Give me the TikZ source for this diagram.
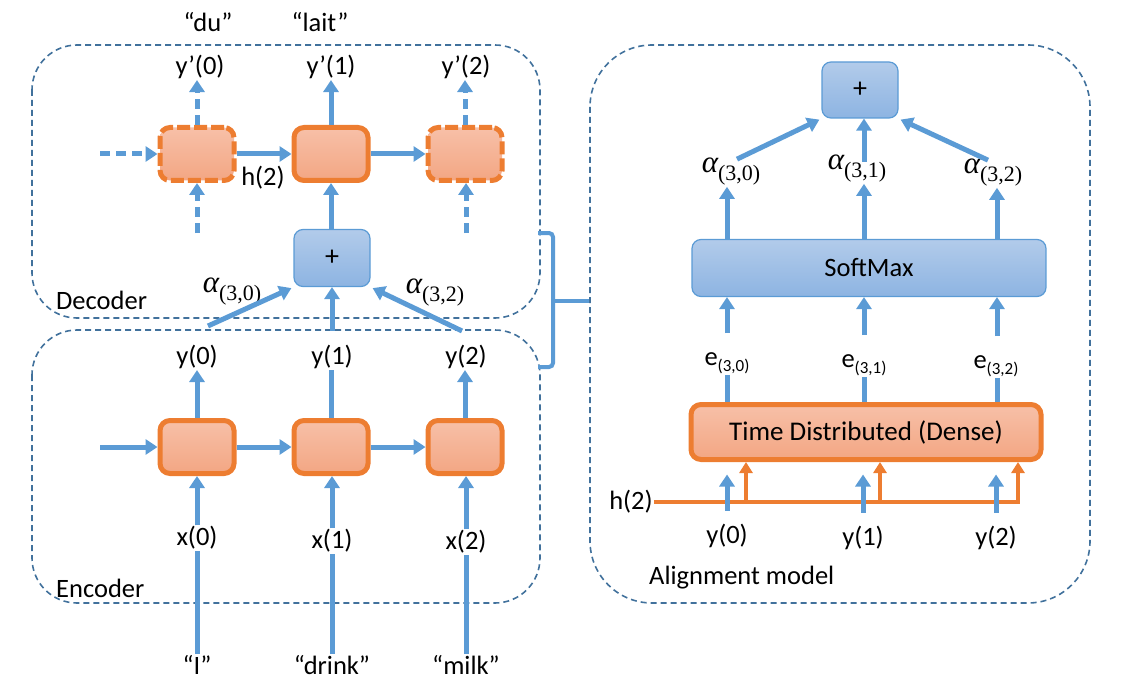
\documentclass[tikz,border=0pt]{standalone}
\usepackage{fontspec}
\setmainfont{Carlito}
\newfontfamily\serfam{Liberation Serif}
\usetikzlibrary{arrows.meta,calc}
\definecolor{ablue}{HTML}{5B9BD5}
\definecolor{dblue}{HTML}{41719C}
\definecolor{aorange}{HTML}{ED7D31}
\definecolor{celltop}{RGB}{247,192,168}
\definecolor{cellbot}{RGB}{243,166,131}
\definecolor{btop}{RGB}{178,203,234}
\definecolor{bbot}{RGB}{141,180,226}
\tikzset{
  cellbox/.style={rectangle, rounded corners=10pt, draw=aorange, line width=5pt, top color=celltop, bottom color=cellbot, minimum width=74pt, minimum height=53pt, inner sep=0pt},
  dcellbox/.style={cellbox, dash pattern=on 13pt off 4pt},
  bluebox/.style={rectangle, rounded corners=9pt, draw=ablue, line width=1.2pt, top color=btop, bottom color=bbot, inner sep=0pt},
  arr/.style={draw=ablue, line width=5pt, -{Triangle[width=15pt,length=12pt]}},
  darr/.style={arr, dash pattern=on 10pt off 6pt},
  ln/.style={draw=ablue, line width=5pt},
  orarr/.style={draw=aorange, line width=4pt, -{Triangle[width=13pt,length=11pt]}},
  container/.style={draw=dblue, line width=1.6pt, dash pattern=on 6pt off 4pt, rounded corners=45pt},
  lab/.style={inner sep=1pt, font=\fontsize{26.5}{30}\selectfont},
  plus/.style={font=\fontsize{28}{30}\selectfont},
}
\newcommand{\esub}[1]{e\raisebox{-6pt}{\fontsize{17}{20}\selectfont #1}}
\newcommand{\alp}[1]{{\serfam\fontsize{31}{32}\selectfont\itshape α}\raisebox{-8pt}{\serfam\fontsize{22}{22}\selectfont #1}}
\begin{document}
\begin{tikzpicture}[x=1pt,y=-1pt]
\useasboundingbox (0,0) rectangle (1136,682);
% containers
\draw[container] (32,45) rectangle (540,318);
\draw[container] (32,330) rectangle (540,603);
\draw[container, rounded corners=62pt] (590,45) rectangle (1090,603);
\node[lab, anchor=west] (declab) at (55,300) {Decoder};
\node[lab, anchor=west] (enclab) at (55,588) {Encoder};
\node[lab, anchor=west] (alab) at (648,578) {Alignment model};

% ---------------- Decoder ----------------
\node[dcellbox] (d0) at (197,154) {};
\node[cellbox] (d1) at (331,154) {};
\node[dcellbox] (d2) at (465,154) {};
\node[bluebox, plus, minimum width=76pt, minimum height=57pt] (dp) at (332,258) {+};
\node[lab] (du) at (208,22) {“du”};
\node[lab] (lait) at (320,22) {“lait”};
\node[lab] (yp0) at (200,67) {y’(0)};
\node[lab] (yp1) at (331,67) {y’(1)};
\node[lab] (yp2) at (466,67) {y’(2)};
\node[lab] (h2) at (263,178) {h(2)};
\node[lab] (ad0) at (232,292) {\alp{(3,0)}};
\node[lab] (ad2) at (435,293) {\alp{(3,2)}};
\coordinate (din) at (100,154);
\coordinate (d0in) at (197,233);
\coordinate (d2in) at (466,233);
\draw[darr] (din) -- (d0.west);
\draw[arr] (d0.east) -- (d1.west);
\draw[arr] (d1.east) -- (d2.west);
\draw[darr] (d0.north) -- (d0.north |- yp0.south);
\draw[arr] (d1.north) -- (d1.north |- yp1.south);
\draw[darr] (d2.north) -- (d2.north |- yp2.south);
\draw[darr] (d0in) -- (d0in |- d0.south);
\draw[darr] (d2in) -- (d2in |- d2.south);
\draw[arr] (dp.north -| d1) -- (d1.south);

% ---------------- Encoder ----------------
\node[cellbox] (e0) at (197,447) {};
\node[cellbox] (e1) at (331,447) {};
\node[cellbox] (e2) at (465,447) {};
\node[lab] (y0) at (197,357) {y(0)};
\node[lab] (y1) at (332,357) {y(1)};
\node[lab] (y2) at (466,357) {y(2)};
\node[lab] (x0) at (197,538) {x(0)};
\node[lab] (x1) at (332,541) {x(1)};
\node[lab] (x2) at (466,542) {x(2)};
\node[lab] (q0) at (197,665) {“I”};
\node[lab] (q1) at (332,665) {“drink”};
\node[lab] (q2) at (466,665) {“milk”};
\coordinate (ein) at (100,447);
\draw[arr] (ein) -- (e0.west);
\draw[arr] (e0.east) -- (e1.west);
\draw[arr] (e1.east) -- (e2.west);
\draw[arr] (e0.north) -- (e0.north |- y0.south);
\draw[ln] (e1.north) -- (e1.north |- y1.south);
\draw[arr] (e2.north) -- (e2.north |- y2.south);
\draw[arr] (x0.north) -- (x0.north |- e0.south);
\draw[arr] (x1.north) -- (x1.north |- e1.south);
\draw[arr] (x2.north) -- (x2.north |- e2.south);
\draw[ln] (q0.north) -- (q0.north |- x0.south);
\draw[ln] (q1.north) -- (q1.north |- x1.south);
\draw[ln] (q2.north) -- (q2.north |- x2.south);
% into decoder plus
\draw[arr] ([xshift=11pt,yshift=18pt]y0.north) -- ([xshift=-2pt,yshift=-1pt]dp.south west);
\draw[arr] ([yshift=13pt]y1.north) -- (dp.south);
\draw[arr] ([xshift=-4pt,yshift=13pt]y2.north) -- ([xshift=2pt,yshift=-1pt]dp.south east);

% brace
\coordinate (bt) at (538,233);
\coordinate (bb) at (538,367);
\coordinate (bm) at (589,301);
\draw[ln, line width=4pt, rounded corners=4pt] (bt) -- (553,233) -- (553,367) -- (bb);
\draw[ln, line width=4pt] (553,301) -- (bm);

% ---------------- Alignment model ----------------
\node[bluebox, plus, minimum width=76pt, minimum height=56pt] (ap) at (860,90) {+};
\node[bluebox, lab, minimum width=354pt, minimum height=57pt] (sm) at (869,268) {SoftMax};
\node[cellbox, lab, font=\fontsize{27}{30}\selectfont, minimum width=350pt, minimum height=55pt] (td) at (866,432) {Time Distributed (Dense)};
\node[lab] (aa0) at (731,172) {\alp{(3,0)}};
\node[lab] (aa1) at (857,169) {\alp{(3,1)}};
\node[lab] (aa2) at (993,173) {\alp{(3,2)}};
\node[lab] (ee0) at (727,363) {\esub{(3,0)}};
\node[lab] (ee1) at (864,365) {\esub{(3,1)}};
\node[lab] (ee2) at (996,366) {\esub{(3,2)}};
\node[lab] (ya0) at (727,536) {y(0)};
\node[lab] (ya1) at (863,538) {y(1)};
\node[lab] (ya2) at (996,538) {y(2)};
\node[lab] (ha) at (631,502) {h(2)};
\coordinate (c0) at (727,0);
\coordinate (c1) at (864,0);
\coordinate (c2) at (997,0);
\draw[arr] (sm.north -| c0) -- (c0 |- aa0.south);
\draw[arr] (sm.north -| c1) -- (c1 |- aa1.south);
\draw[arr] (sm.north -| c2) -- (c2 |- aa2.south);
\draw[arr] ([xshift=6pt,yshift=-2pt]aa0.north) -- ([xshift=-2pt,yshift=-1pt]ap.south west);
\draw[arr] ([yshift=-8pt]c1 |- aa1.north) -- (c1 |- ap.south);
\draw[arr] ([xshift=-5pt,yshift=-2pt]aa2.north) -- ([xshift=2pt,yshift=-1pt]ap.south east);
\draw[arr] ([yshift=18pt]c0 |- ee0.north) -- (c0 |- sm.south);
\draw[arr] ([yshift=18pt]c1 |- ee1.north) -- (c1 |- sm.south);
\draw[arr] ([yshift=18pt]c2 |- ee2.north) -- (c2 |- sm.south);
\draw[ln] (c0 |- ee0.south) -- (c0 |- td.north);
\draw[ln] (c1 |- ee1.south) -- (c1 |- td.north);
\draw[ln] (c2 |- ee2.south) -- (c2 |- td.north);
% orange h(2) feed
\coordinate (o0) at (746,502);
\coordinate (o1) at (880,502);
\coordinate (o2) at (1018,502);
\draw[orarr] (ha.east) -- (o2) -- (o2 |- td.south);
\draw[orarr] (o0) -- (o0 |- td.south);
\draw[orarr] (o1) -- (o1 |- td.south);
% blue y inputs
\draw[arr, shorten <=12pt] (ya0.north) -- ([yshift=-12.5pt]ya0 |- td.south);
\draw[arr, shorten <=12pt] (ya1.north) -- ([yshift=-12.5pt]ya1 |- td.south);
\draw[arr, shorten <=12pt] (ya2.north) -- ([yshift=-12.5pt]ya2 |- td.south);
\end{tikzpicture}
\end{document}
